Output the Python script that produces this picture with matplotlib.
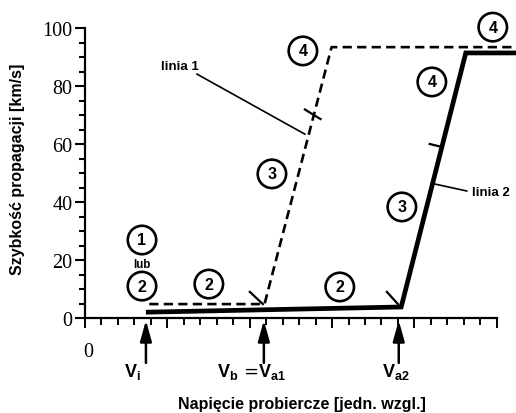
import matplotlib
matplotlib.use("Agg")
import matplotlib.pyplot as plt
import numpy as np

plt.rcParams['mathtext.fontset'] = 'custom'
plt.rcParams['mathtext.rm'] = 'Liberation Sans'
plt.rcParams['mathtext.bf'] = 'Liberation Sans:bold'
plt.rcParams['mathtext.it'] = 'Liberation Sans:italic'

# ---- data ----
line1_x = [3.9, 10.9, 14.97, 26.2]     # dashed (linia 1)
line1_y = [4.8, 4.8, 93.4, 93.4]
line2_x = [3.7, 19.2, 23.12, 26.2]     # solid (linia 2)
line2_y = [2.0, 3.8, 91.4, 91.4]

y_ticks = [0, 20, 40, 60, 80, 100]
y_ticklabels = ['0', '20', '40', '60', '80', '100']

voltage_marks = [3.70, 10.86, 19.05]
voltage_labels = [r'$\mathbf{V_i}$', r'$\mathbf{V_b}$ =$\mathbf{V_{a1}}$', r'$\mathbf{V_{a2}}$']
voltage_label_x = [2.9, 10.13, 18.87]

circle_labels = ['1', '2', '2', '2', '3', '3', '4', '4', '4']
circle_x = [3.46, 3.46, 7.52, 15.47, 11.35, 19.24, 13.23, 21.06, 24.76]
circle_y = [26.9, 11.0, 11.7, 10.7, 49.7, 38.3, 92.1, 81.4, 100.3]

# small segment marks on lines (start/end pairs)
seg_marks = [((13.35, 71.9), (14.3, 68.6)),
             ((20.93, 60.0), (21.66, 59.0)),
             ((10.01, 9.0), (10.8, 4.8)),
             ((18.33, 9.0), (19.0, 4.8))]

W, H = 516, 414
fig = plt.figure(figsize=(W / 100, H / 100), dpi=100)
fig.patch.set_facecolor('white')
ax = fig.add_axes([85 / W, (H - 319) / H, (W - 85) / W, 290 / H])
ax.set_xlim(0, 26.17)
ax.set_ylim(0, 100)

for s in ['top', 'right']:
    ax.spines[s].set_visible(False)
ax.spines['bottom'].set_bounds(0, 25)
ax.spines['left'].set_bounds(0, 100)
ax.spines['bottom'].set_linewidth(1.6)
ax.spines['left'].set_linewidth(1.6)

ax.set_xticks(np.arange(0, 26, 5))
ax.set_xticks(np.arange(0, 26, 1), minor=True)
ax.tick_params(axis='x', which='major', direction='out', length=7.5, width=1.4, labelbottom=False)
ax.tick_params(axis='x', which='minor', direction='out', length=5, width=1.4)
ax.set_yticks(y_ticks)
ax.set_yticklabels(y_ticklabels, fontfamily='Liberation Serif', fontsize=14.5)
ax.set_yticks(np.arange(0, 101, 5), minor=True)
ax.tick_params(axis='y', which='major', direction='out', length=7, width=1.5, pad=2)
ax.tick_params(axis='y', which='minor', direction='out', length=4, width=1.5)

ax.text(0.18, -11.4, '0', fontfamily='Liberation Serif', fontsize=14.5, ha='center', va='center')

# lines
ax.plot(line1_x, line1_y, color='black', lw=1.9, linestyle=(0, (3.5, 2.0)), clip_on=False,
        solid_joinstyle='miter')
ax.plot(line2_x, line2_y, color='black', lw=3.4, clip_on=False, solid_joinstyle='miter',
        solid_capstyle='butt')

for (a, b) in seg_marks:
    ax.plot([a[0], b[0]], [a[1], b[1]], color='black', lw=1.6, clip_on=False)

# circled numbers
for lab, cx, cy in zip(circle_labels, circle_x, circle_y):
    ax.text(cx, cy, lab, fontfamily='Liberation Sans', fontweight='bold', fontsize=11.5,
            ha='center', va='center', clip_on=False,
            bbox=dict(boxstyle='circle,pad=0.42', fc='white', ec='black', lw=1.9))
ax.text(3.46, 18.6, 'lub', fontfamily='Liberation Sans', fontweight='bold', fontsize=8.3,
        ha='center', va='center')

# line labels
ax.text(5.76, 86.9, 'linia 1', fontfamily='Liberation Sans', fontweight='bold', fontsize=9.5,
        ha='center', va='center')
ax.plot([6.8, 13.35], [84.1, 63.4], color='black', lw=1.2)
ax.text(23.48, 43.4, 'linia 2', fontfamily='Liberation Sans', fontweight='bold', fontsize=9.5,
        ha='left', va='center', clip_on=False)
ax.plot([21.24, 23.18], [46.2, 43.8], color='black', lw=1.2)

# voltage arrows
for vx, lab, lx in zip(voltage_marks, voltage_labels, voltage_label_x):
    ax.annotate('', xy=(vx, -0.8), xytext=(vx, -15.5), annotation_clip=False,
                arrowprops=dict(arrowstyle='-|>,head_length=0.9,head_width=0.25',
                                lw=1.8, color='black', mutation_scale=14,
                                shrinkA=0, shrinkB=0))
    ax.text(lx, -20, lab, fontsize=13, ha='center', va='baseline', clip_on=False)

fig.text(302 / W, 1 - 405 / H, 'Napięcie probiercze [jedn. wzgl.]', fontfamily='Liberation Sans',
         fontweight='bold', fontsize=11.5, ha='center', va='center')
fig.text(18 / W, 1 - 169 / H, 'Szybkość propagacji [km/s]', fontfamily='Liberation Sans',
         fontweight='bold', fontsize=11.5, ha='center', va='center', rotation=90)

fig.savefig('out.png', dpi=100, facecolor='white')
